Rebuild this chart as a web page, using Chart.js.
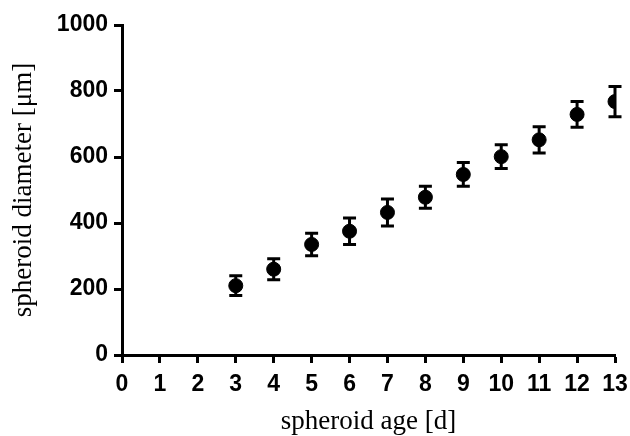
<!DOCTYPE html>
<html>
<head>
<meta charset="utf-8">
<script src="https://cdn.jsdelivr.net/npm/chart.js@4"></script>
<style>
  html, body { margin: 0; padding: 0; background: #fff; }
  #wrap { width: 630px; height: 436px; }
</style>
</head>
<body>
<div id="wrap"><canvas id="chart"></canvas></div>
<script>
const days = [3, 4, 5, 6, 7, 8, 9, 10, 11, 12, 13];
const diameter = [210, 260, 335, 375, 432, 478, 547, 601, 652, 729, 768];
const diameterErr = [30, 32, 34, 40, 41, 33, 36, 36, 40, 39, 46];
const xTicks = [0, 1, 2, 3, 4, 5, 6, 7, 8, 9, 10, 11, 12, 13];
const yTicks = [0, 200, 400, 600, 800, 1000];

const tickFont = { family: 'Liberation Sans, Arial, sans-serif', size: 23, weight: 'bold' };
const titleFont = { family: 'Liberation Serif, Times New Roman, serif', size: 27, lineHeight: 1.0 };

// vertical whiskers with caps, drawn before the points
const errorBars = {
  id: 'errorBars',
  beforeDatasetsDraw(chart) {
    const { ctx, scales: { x, y } } = chart;
    ctx.save();
    ctx.strokeStyle = '#000';
    ctx.lineWidth = 3;
    days.forEach((d, i) => {
      const px = x.getPixelForValue(d);
      const top = y.getPixelForValue(diameter[i] + diameterErr[i]);
      const bot = y.getPixelForValue(diameter[i] - diameterErr[i]);
      ctx.beginPath();
      ctx.moveTo(px, top); ctx.lineTo(px, bot);
      ctx.moveTo(px - 6.5, top); ctx.lineTo(px + 6.5, top);
      ctx.moveTo(px - 6.5, bot); ctx.lineTo(px + 6.5, bot);
      ctx.stroke();
    });
    ctx.restore();
  }
};

new Chart(document.getElementById('chart'), {
  type: 'scatter',
  data: {
    datasets: [{
      data: days.map((d, i) => ({ x: d, y: diameter[i] })),
      backgroundColor: '#000',
      borderColor: '#000',
      pointRadius: 7,
      pointHoverRadius: 7,
    }],
  },
  options: {
    responsive: true,
    maintainAspectRatio: false,
    animation: false,
    layout: { padding: { top: 25, right: 15, left: 0, bottom: 0 } },
    plugins: { legend: { display: false }, tooltip: { enabled: false } },
    scales: {
      x: {
        type: 'linear',
        min: 0,
        max: 13,
        afterBuildTicks: (s) => { s.ticks = xTicks.map(v => ({ value: v })); },
        afterFit: (s) => { s.height = 81; s.paddingLeft = 0; s.paddingRight = 0; },
        grid: { drawOnChartArea: false, drawTicks: true, tickLength: 8, tickWidth: 3, tickColor: '#000' },
        border: { display: true, color: '#000', width: 3 },
        ticks: { color: '#000', font: tickFont, padding: 8, maxRotation: 0, callback: (v) => String(v) },
        title: { display: true, text: 'spheroid age [d]', color: '#000', font: titleFont, padding: { top: 0, bottom: 1 } },
      },
      y: {
        min: 0,
        max: 1000,
        afterBuildTicks: (s) => { s.ticks = yTicks.map(v => ({ value: v })); },
        afterFit: (s) => { s.width = 122; s.paddingTop = 0; s.paddingBottom = 0; },
        grid: { drawOnChartArea: false, drawTicks: true, tickLength: 8, tickWidth: 3, tickColor: '#000' },
        border: { display: true, color: '#000', width: 3 },
        ticks: { color: '#000', font: tickFont, padding: 6, callback: (v) => String(v) },
        title: { display: true, text: 'spheroid diameter [μm]', color: '#000', font: titleFont, padding: { top: 10, bottom: 0 } },
      },
    },
  },
  plugins: [errorBars],
});
</script>
</body>
</html>
